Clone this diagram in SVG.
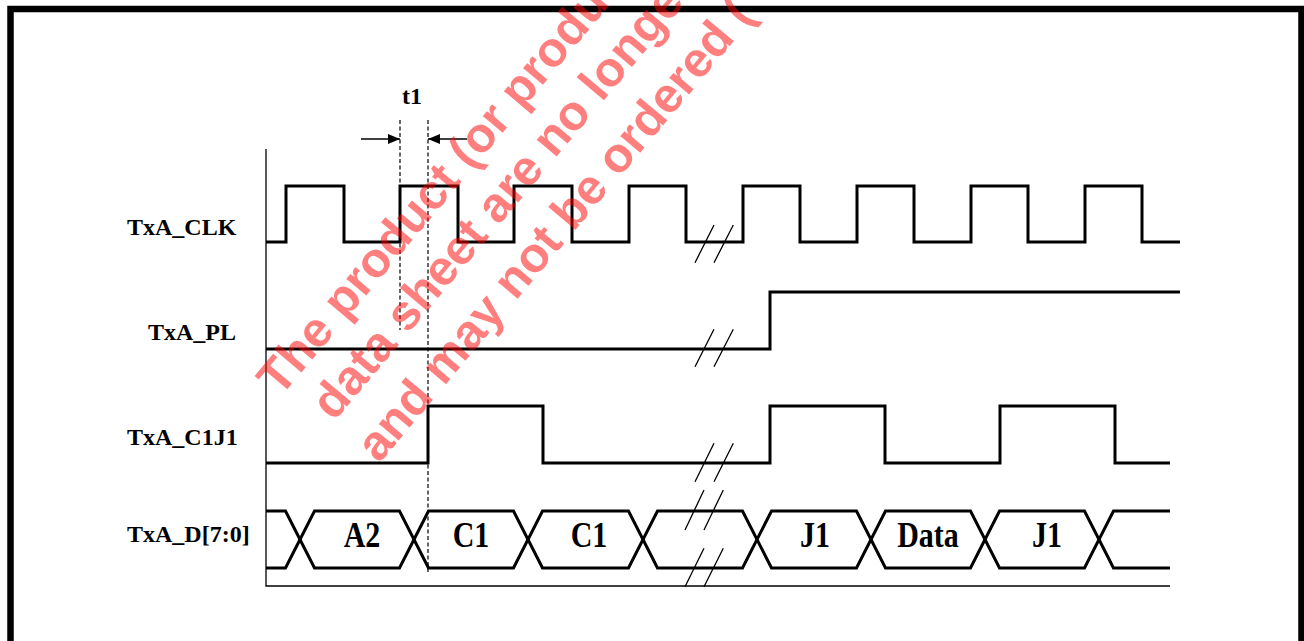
<svg xmlns="http://www.w3.org/2000/svg" width="1304" height="641" viewBox="0 0 1304 641">
<style>
.sig{fill:none;stroke:#000;stroke-width:3;stroke-linejoin:miter}
.thin{fill:none;stroke:#000;stroke-width:1.3}
.dash{fill:none;stroke:#000;stroke-width:1.2;stroke-dasharray:4 2.5}
.lbl{font-family:"Liberation Serif","Times New Roman",serif;font-weight:bold;font-size:24px;fill:#000}
.dat{font-family:"Liberation Serif","Times New Roman",serif;font-weight:bold;font-size:30px;fill:#000;text-anchor:middle}
.wm{font-family:"Liberation Sans",Arial,sans-serif;font-weight:bold;font-size:49px;fill:#ff0000;fill-opacity:0.5}
</style>
<defs>
<marker id="ah" viewBox="0 0 12 10" refX="12" refY="5" markerWidth="12" markerHeight="10" markerUnits="userSpaceOnUse" orient="auto">
<path d="M0,0 L12,5 L0,10 Z" fill="#000"/>
</marker>
</defs>
<rect width="1304" height="641" fill="#fff"/>
<path d="M10.5,641 V9 H1301.5 V641" fill="none" stroke="#000" stroke-width="6.5"/>

<g id="axes">
<path class="thin" d="M266,149 V586 H1170"/>
</g>

<g id="labels">
<text class="lbl" x="127" y="235">TxA_CLK</text>
<text class="lbl" x="148" y="340">TxA_PL</text>
<text class="lbl" x="127" y="445">TxA_C1J1</text>
<text class="lbl" x="127" y="542">TxA_D[7:0]</text>
</g>

<g id="TxA_CLK">
<path class="sig" d="M266,242 H286 V186 H344 V242 H400 V186 H458 V242 H514 V186 H572 V242 H629 V186 H686 V242 H743 V186 H800 V242 H857 V186 H914 V242 H971 V186 H1028 V242 H1085 V186 H1142 V242 H1180"/>
</g>

<g id="TxA_PL">
<path class="sig" d="M266,349 H770 V292 H1180"/>
</g>

<g id="TxA_C1J1">
<path class="sig" d="M266,463 H428 V406 H543 V463 H770 V406 H885 V463 H1000 V406 H1115 V463 H1170"/>
</g>

<g id="TxA_D">
<path class="sig" d="M266,511 H285.5 L314.5,568 H399.5 L428.5,511 H513.5 L542.5,568 H628.5 L657.5,511 H742.5 L771.5,568 H856.5 L885.5,511 H970.5 L999.5,568 H1084.5 L1113.5,511 H1170"/>
<path class="sig" d="M266,568 H285.5 L314.5,511 H399.5 L428.5,568 H513.5 L542.5,511 H628.5 L657.5,568 H742.5 L771.5,511 H856.5 L885.5,568 H970.5 L999.5,511 H1084.5 L1113.5,568 H1170"/>
<text class="dat" transform="translate(362,547) scale(1,1.2)">A2</text>
<text class="dat" transform="translate(471,547) scale(1,1.2)">C1</text>
<text class="dat" transform="translate(589,547) scale(1,1.2)">C1</text>
<text class="dat" transform="translate(815,547) scale(1,1.2)">J1</text>
<text class="dat" transform="translate(928,547) scale(1,1.2)">Data</text>
<text class="dat" transform="translate(1047,547) scale(1,1.2)">J1</text>
</g>

<g id="breaks">
<path class="thin" d="M695,262.7 L714,225 M714,262.7 L733.3,225"/>
<path class="thin" d="M695,366.7 L714,329.3 M714,366.7 L733.3,329.3"/>
<path class="thin" d="M695,481.7 L714,443.3 M714,481.7 L733.3,443.3"/>
<path class="thin" d="M685,530 L704,490 M704,530 L723.3,490"/>
<path class="thin" d="M685,586.7 L704,548.3 M704,586.7 L723.3,548.3"/>
</g>

<g id="t1">
<path class="dash" d="M400,120 V330"/>
<path class="dash" d="M428,120 V572"/>
<path class="thin" d="M361,139 H400" marker-end="url(#ah)"/>
<path class="thin" d="M467,139 H428" marker-end="url(#ah)"/>
<text class="lbl" x="412" y="104" text-anchor="middle" font-size="22">t1</text>
</g>

<g id="watermark">
<text class="wm" transform="translate(280,398) rotate(-50)">The product (or produ</text>
<text class="wm" transform="translate(334,422) rotate(-50)">data sheet are no longe</text>
<text class="wm" transform="translate(379,464) rotate(-50)">and may not be ordered (</text>
</g>
</svg>
